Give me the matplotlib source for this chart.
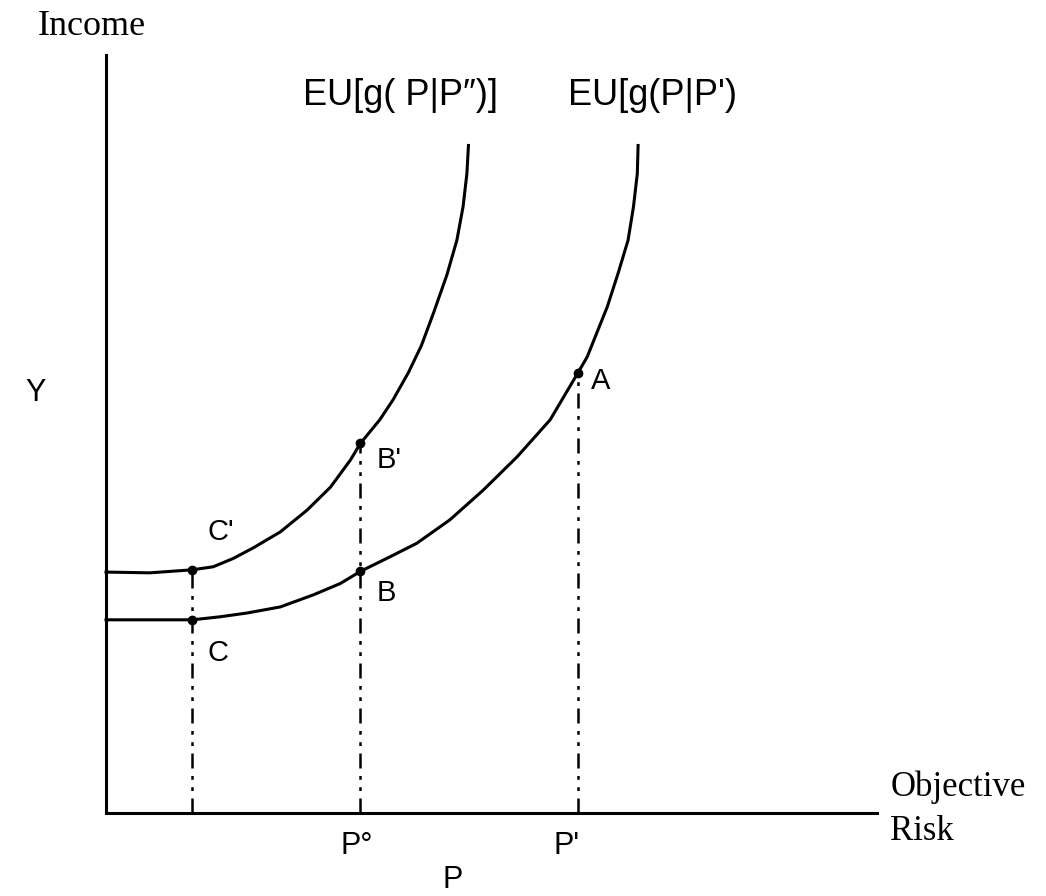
import matplotlib
matplotlib.use("Agg")
import matplotlib.pyplot as plt

# curve readings (P = objective risk, Y = income), arbitrary units
p_upper = [0, 0.57, 1.12, 1.39, 1.65, 1.91, 2.26, 2.61, 2.91, 3.17, 3.30, 3.55, 3.72,
           3.92, 4.09, 4.24, 4.42, 4.55, 4.63, 4.68, 4.70]
y_upper = [3.18, 3.17, 3.21, 3.25, 3.36, 3.50, 3.71, 4.00, 4.30, 4.66, 4.88, 5.19, 5.45,
           5.81, 6.17, 6.58, 7.10, 7.56, 8.00, 8.44, 8.81]

p_lower = [0, 0.57, 1.12, 1.48, 1.83, 2.26, 2.69, 3.04, 3.30, 3.68, 4.03, 4.46, 4.89,
           5.33, 5.76, 6.12, 6.24, 6.50, 6.64, 6.77, 6.84, 6.89, 6.90]
y_lower = [2.55, 2.55, 2.55, 2.59, 2.64, 2.72, 2.88, 3.03, 3.19, 3.38, 3.56, 3.87, 4.26,
           4.70, 5.19, 5.81, 6.02, 6.68, 7.12, 7.56, 8.00, 8.44, 8.81]

# marked points
pt_names = ["C", "C'", "B", "B'", "A"]
pt_p = [1.12, 1.12, 3.30, 3.30, 6.12]
pt_y = [2.55, 3.21, 3.19, 4.88, 5.81]

# dash-dot drop lines (P, top)
drop_p = [1.12, 3.30, 6.12]
drop_top = [3.21, 4.88, 5.81]

fig = plt.figure(figsize=(10.46, 8.96), dpi=100)
ax = fig.add_axes([0, 0, 1, 1])
ax.set_xlim(-1.375, 12.19)
ax.set_ylim(-1.095, 10.73)
ax.axis("off")

sans = ["Liberation Sans", "DejaVu Sans"]
serif = ["Liberation Serif", "DejaVu Serif"]

# axes
ax.plot([0, 0, 10], [10, 0, 0], color="black", lw=2.2, solid_joinstyle="miter")

ax.plot(p_upper, y_upper, color="black", lw=2.2, solid_joinstyle="round")
ax.plot(p_lower, y_lower, color="black", lw=2.2, solid_joinstyle="round")

for xp, top in zip(drop_p, drop_top):
    ax.plot([xp, xp], [0, top], color="black", lw=1.8, dashes=(6, 3, 1.5, 3, 1.5, 3))

ax.plot(pt_p, pt_y, "o", color="black", ms=6)

# point labels
ax.text(1.31, 3.71, "C'", fontsize=21, family=sans, va="center", ha="left")
ax.text(1.31, 2.11, "C", fontsize=21, family=sans, va="center", ha="left")
ax.text(3.51, 2.90, "B", fontsize=21, family=sans, va="center", ha="left")
ax.text(3.51, 4.66, "B'", fontsize=21, family=sans, va="center", ha="left")
ax.text(6.42, 5.70, "A", fontsize=21, family=sans, va="center", ha="center")

# curve labels
ax.text(2.555, 9.47, "EU[g( P|P\u2033)]", fontsize=26, family=sans, va="center", ha="left")
ax.text(5.99, 9.47, "EU[g(P|P')", fontsize=26, family=sans, va="center", ha="left")

# axis labels
ax.text(-0.18, 10.38, "Income", fontsize=26, family=serif, va="center", ha="center")
ax.text(-0.92, 5.54, "Y", fontsize=22, family=sans, va="center", ha="center")
ax.text(10.17, 0.34, "Objective", fontsize=25, family=serif, va="center", ha="left")
ax.text(10.17, -0.25, "Risk", fontsize=25, family=serif, va="center", ha="left")
ax.text(3.04, -0.43, "P\u00b0", fontsize=22, family=sans, va="center", ha="left")
ax.text(5.80, -0.43, "P'", fontsize=22, family=sans, va="center", ha="left")
ax.text(4.50, -0.88, "P", fontsize=22, family=sans, va="center", ha="center")

fig.savefig("out.png", dpi=100)
